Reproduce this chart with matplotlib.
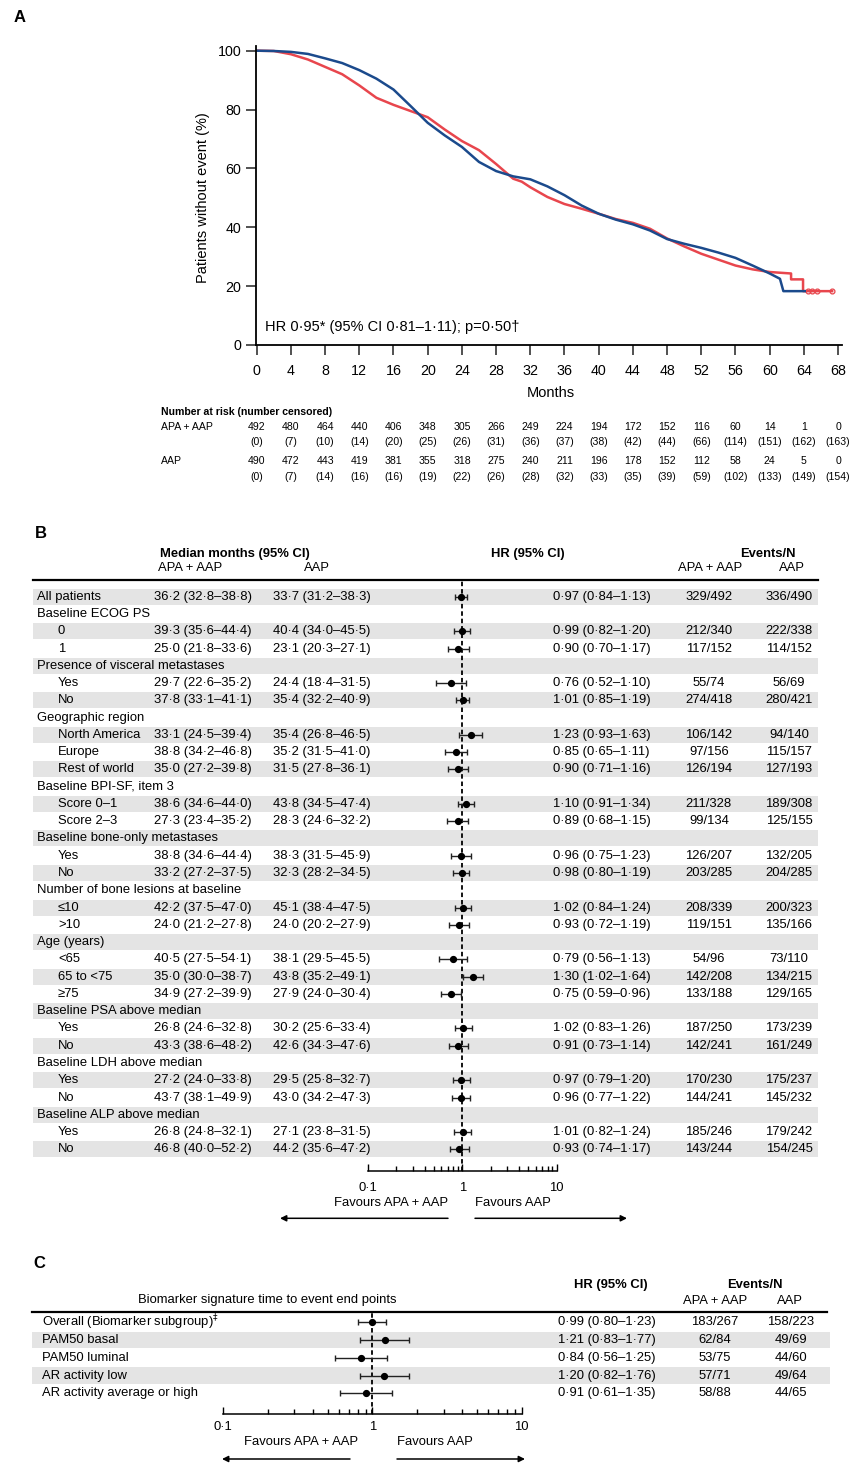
import numpy as np
import matplotlib
matplotlib.use('Agg')
import matplotlib.pyplot as plt
from matplotlib import transforms
from matplotlib.patches import Rectangle
from matplotlib.ticker import FixedLocator, FixedFormatter, LogLocator, NullFormatter

plt.rcParams['font.family'] = ['Liberation Sans', 'DejaVu Sans']

W, H = 853, 1463
BLUE = '#1b4a8c'
RED = '#e8464d'
GREY = '#e4e4e4'

# ---- panel A: time to event, % without event
apa_months = [0, 2, 4, 6, 8, 10, 12, 14, 16, 18, 20, 22, 24, 26, 28, 30, 32, 34, 36, 38,
              40, 42, 44, 46, 48, 50, 52, 54, 56, 58, 60, 61.2, 61.6, 64.1]
apa_surv = [100, 99.9, 99.6, 98.9, 97.4, 95.8, 93.4, 90.5, 86.8, 81.2, 75.5, 71.2, 67.3, 62.2,
            59.1, 57.3, 56.3, 53.9, 50.9, 47.4, 44.6, 42.6, 41.0, 38.9, 36.0, 34.4, 33.0, 31.4,
            29.6, 27.0, 24.3, 22.5, 18.3, 18.3]
aap_months = [0, 2, 4, 6, 8, 10, 12, 14, 16, 18, 20, 22, 24, 26, 28, 30, 31, 32, 34, 36, 38,
              40, 42, 44, 46, 48, 50, 52, 54, 56, 58, 60, 62.5, 62.5, 63.9, 63.9, 67.3]
aap_surv = [100, 99.9, 98.8, 97.0, 94.5, 92.0, 88.2, 84.0, 81.6, 79.5, 77.4, 73.2, 69.3, 66.2,
            61.5, 56.5, 55.5, 53.6, 50.3, 47.9, 46.3, 44.6, 42.8, 41.5, 39.5, 36.2, 33.5, 31.0,
            29.0, 27.0, 25.7, 24.8, 24.3, 22.3, 22.3, 18.3, 18.3]
aap_cens_months = [64.5, 65.0, 65.5, 67.3]
aap_cens_surv = [18.3, 18.3, 18.3, 18.3]

risk_months = list(range(0, 69, 4))
apa_risk = [492, 480, 464, 440, 406, 348, 305, 266, 249, 224, 194, 172, 152, 116, 60, 14, 1, 0]
apa_cens = [0, 7, 10, 14, 20, 25, 26, 31, 36, 37, 38, 42, 44, 66, 114, 151, 162, 163]
aap_risk = [490, 472, 443, 419, 381, 355, 318, 275, 240, 211, 196, 178, 152, 112, 58, 24, 5, 0]
aap_cens = [0, 7, 14, 16, 16, 19, 22, 26, 28, 32, 33, 35, 39, 59, 102, 133, 149, 154]

# ---- panel B: subgroups
nan = np.nan
b_labels = ['All patients', 'Baseline ECOG PS', '0', '1', 'Presence of visceral metastases',
            'Yes', 'No', 'Geographic region', 'North America', 'Europe', 'Rest of world',
            'Baseline BPI-SF, item 3', 'Score 0–1', 'Score 2–3', 'Baseline bone-only metastases',
            'Yes', 'No', 'Number of bone lesions at baseline', '≤10', '>10', 'Age (years)',
            '<65', '65 to <75', '≥75', 'Baseline PSA above median', 'Yes', 'No',
            'Baseline LDH above median', 'Yes', 'No', 'Baseline ALP above median', 'Yes', 'No']
b_indent = [0, 0, 1, 1, 0, 1, 1, 0, 1, 1, 1, 0, 1, 1, 0, 1, 1, 0, 1, 1, 0, 1, 1, 1,
            0, 1, 1, 0, 1, 1, 0, 1, 1]
b_med_apa = ['36·2 (32·8–38·8)', '', '39·3 (35·6–44·4)', '25·0 (21·8–33·6)', '',
             '29·7 (22·6–35·2)', '37·8 (33·1–41·1)', '', '33·1 (24·5–39·4)', '38·8 (34·2–46·8)',
             '35·0 (27·2–39·8)', '', '38·6 (34·6–44·0)', '27·3 (23·4–35·2)', '',
             '38·8 (34·6–44·4)', '33·2 (27·2–37·5)', '', '42·2 (37·5–47·0)', '24·0 (21·2–27·8)',
             '', '40·5 (27·5–54·1)', '35·0 (30·0–38·7)', '34·9 (27·2–39·9)', '',
             '26·8 (24·6–32·8)', '43·3 (38·6–48·2)', '', '27·2 (24·0–33·8)', '43·7 (38·1–49·9)',
             '', '26·8 (24·8–32·1)', '46·8 (40·0–52·2)']
b_med_aap = ['33·7 (31·2–38·3)', '', '40·4 (34·0–45·5)', '23·1 (20·3–27·1)', '',
             '24·4 (18·4–31·5)', '35·4 (32·2–40·9)', '', '35·4 (26·8–46·5)', '35·2 (31·5–41·0)',
             '31·5 (27·8–36·1)', '', '43·8 (34·5–47·4)', '28·3 (24·6–32·2)', '',
             '38·3 (31·5–45·9)', '32·3 (28·2–34·5)', '', '45·1 (38·4–47·5)', '24·0 (20·2–27·9)',
             '', '38·1 (29·5–45·5)', '43·8 (35·2–49·1)', '27·9 (24·0–30·4)', '',
             '30·2 (25·6–33·4)', '42·6 (34·3–47·6)', '', '29·5 (25·8–32·7)', '43·0 (34·2–47·3)',
             '', '27·1 (23·8–31·5)', '44·2 (35·6–47·2)']
b_hr = [0.97, nan, 0.99, 0.90, nan, 0.76, 1.01, nan, 1.23, 0.85, 0.90, nan, 1.10, 0.89, nan,
        0.96, 0.98, nan, 1.02, 0.93, nan, 0.79, 1.30, 0.75, nan, 1.02, 0.91, nan, 0.97, 0.96,
        nan, 1.01, 0.93]
b_lo = [0.84, nan, 0.82, 0.70, nan, 0.52, 0.85, nan, 0.93, 0.65, 0.71, nan, 0.91, 0.68, nan,
        0.75, 0.80, nan, 0.84, 0.72, nan, 0.56, 1.02, 0.59, nan, 0.83, 0.73, nan, 0.79, 0.77,
        nan, 0.82, 0.74]
b_hi = [1.13, nan, 1.20, 1.17, nan, 1.10, 1.19, nan, 1.63, 1.11, 1.16, nan, 1.34, 1.15, nan,
        1.23, 1.19, nan, 1.24, 1.19, nan, 1.13, 1.64, 0.96, nan, 1.26, 1.14, nan, 1.20, 1.22,
        nan, 1.24, 1.17]
b_ev_apa = ['329/492', '', '212/340', '117/152', '', '55/74', '274/418', '', '106/142', '97/156',
            '126/194', '', '211/328', '99/134', '', '126/207', '203/285', '', '208/339', '119/151',
            '', '54/96', '142/208', '133/188', '', '187/250', '142/241', '', '170/230', '144/241',
            '', '185/246', '143/244']
b_ev_aap = ['336/490', '', '222/338', '114/152', '', '56/69', '280/421', '', '94/140', '115/157',
            '127/193', '', '189/308', '125/155', '', '132/205', '204/285', '', '200/323', '135/166',
            '', '73/110', '134/215', '129/165', '', '173/239', '161/249', '', '175/237', '145/232',
            '', '179/242', '154/245']

# ---- panel C: biomarker signatures
c_labels = ['Overall (Biomarker subgroup)$^{‡}$', 'PAM50 basal', 'PAM50 luminal',
            'AR activity low', 'AR activity average or high']
c_hr = [0.99, 1.21, 0.84, 1.20, 0.91]
c_lo = [0.80, 0.83, 0.56, 0.82, 0.61]
c_hi = [1.23, 1.77, 1.25, 1.76, 1.35]
c_ev_apa = ['183/267', '62/84', '53/75', '57/71', '58/88']
c_ev_aap = ['158/223', '49/69', '44/60', '49/64', '44/65']


def hr_text(h, l, u):
    return f'{h:.2f} ({l:.2f}–{u:.2f})'.replace('.', '·')


fig = plt.figure(figsize=(W / 100, H / 100), dpi=100)

bg = fig.add_axes([0, 0, 1, 1])
bg.set_xlim(0, W)
bg.set_ylim(H, 0)
bg.axis('off')
bg.set_zorder(0)


def px_axes(left, top, right, bottom):
    ax = fig.add_axes([left / W, 1 - bottom / H, (right - left) / W, (bottom - top) / H])
    ax.set_zorder(1)
    ax.patch.set_alpha(0)
    return ax


# ================= A =================
bg.text(14, 18, 'A', fontsize=12, fontweight='bold', va='center')
x0, px_month = 256.7, 8.55
y0, px_pct = 345.0, 2.943
axA = px_axes(x0 - 0.1 * px_month, y0 - 101.5 * px_pct, x0 + 68.4 * px_month, y0)
axA.set_xlim(-0.1, 68.4)
axA.set_ylim(0, 101.5)
axA.plot(aap_months, aap_surv, color=RED, lw=1.8)
axA.plot(aap_cens_months, aap_cens_surv, 'o', mfc='none', mec=RED, ms=3.5, mew=0.9)
axA.plot(apa_months, apa_surv, color=BLUE, lw=1.8)
for s in ['top', 'right']:
    axA.spines[s].set_visible(False)
for s in ['left', 'bottom']:
    axA.spines[s].set_linewidth(1.3)
axA.set_xticks(risk_months)
axA.set_yticks([0, 20, 40, 60, 80, 100])
axA.tick_params(axis='both', length=7, width=1.1, labelsize=10.3, color='#222222')
axA.tick_params(axis='x', pad=7)
axA.tick_params(axis='y', pad=3.5)
axA.text(1, 6, 'HR 0·95* (95% CI 0·81–1·11); p=0·50†', fontsize=10.5, va='center')
bg.text(203, 198, 'Patients without event (%)', rotation=90, fontsize=10.5,
        ha='center', va='center')
bg.text(551, 393, 'Months', fontsize=10.5, ha='center', va='center')

# number at risk table
RS = 7.6
tr = transforms.blended_transform_factory(axA.transData, bg.transData)
bg.text(161, 411.7, 'Number at risk (number censored)', fontsize=RS, fontweight='bold',
        va='center')
bg.text(161, 426.7, 'APA + AAP', fontsize=RS, va='center')
bg.text(161, 460.7, 'AAP', fontsize=RS, va='center')
for m, a, ac, b, bc in zip(risk_months, apa_risk, apa_cens, aap_risk, aap_cens):
    bg.text(m, 426.7, str(a), transform=tr, fontsize=RS, ha='center', va='center')
    bg.text(m, 442.3, f'({ac})', transform=tr, fontsize=RS, ha='center', va='center')
    bg.text(m, 460.7, str(b), transform=tr, fontsize=RS, ha='center', va='center')
    bg.text(m, 476.7, f'({bc})', transform=tr, fontsize=RS, ha='center', va='center')


def forest(left, right, top, bottom, row0, drow, hr, lo, hi, pad):
    ax = px_axes(left, top, right, bottom)
    ax.set_xscale('log')
    ax.set_xlim(0.1, 10)
    ax.set_ylim((bottom - row0) / drow, (top - row0) / drow)
    hr, lo, hi = np.asarray(hr), np.asarray(lo), np.asarray(hi)
    rows = np.arange(len(hr))
    ok = ~np.isnan(hr)
    ax.axvline(1, color='black', lw=1.3, ls=(0, (2.5, 1.6)))
    ax.errorbar(hr[ok], rows[ok], xerr=[hr[ok] - lo[ok], hi[ok] - hr[ok]], fmt='o',
                ms=4.2, color='black', ecolor='#222222', elinewidth=1, capsize=2.4,
                capthick=1, zorder=3)
    for s in ['top', 'right', 'left']:
        ax.spines[s].set_visible(False)
    ax.spines['bottom'].set_linewidth(1.1)
    ax.set_yticks([])
    ax.xaxis.set_major_locator(FixedLocator([0.1, 1, 10]))
    ax.xaxis.set_major_formatter(FixedFormatter(['0·1', '1', '10']))
    ax.xaxis.set_minor_locator(LogLocator(base=10, subs=range(2, 10)))
    ax.xaxis.set_minor_formatter(NullFormatter())
    ax.tick_params(axis='x', which='major', direction='in', length=5, width=1,
                   labelsize=9.4, pad=pad)
    ax.tick_params(axis='x', which='minor', direction='in', length=3.5, width=1)
    return ax


def arrows(y, left_from, left_to, right_from, right_to):
    props = dict(arrowstyle='-|>', color='black', lw=1.1, mutation_scale=9,
                 shrinkA=0, shrinkB=0)
    bg.annotate('', xy=(left_to, y), xytext=(left_from, y), arrowprops=props)
    bg.annotate('', xy=(right_to, y), xytext=(right_from, y), arrowprops=props)


FS = 9.4

# ================= B =================
bg.text(35, 533, 'B', fontsize=12, fontweight='bold', va='center')
bg.text(235, 554, 'Median months (95% CI)', fontsize=FS, fontweight='bold', ha='center',
        va='center')
bg.text(190, 568, 'APA + AAP', fontsize=FS, ha='center', va='center')
bg.text(317, 568, 'AAP', fontsize=FS, ha='center', va='center')
bg.text(528, 554, 'HR (95% CI)', fontsize=FS, fontweight='bold', ha='center', va='center')
bg.text(768, 554, 'Events/N', fontsize=FS, fontweight='bold', ha='center', va='center')
bg.text(710, 568, 'APA + AAP', fontsize=FS, ha='center', va='center')
bg.text(792, 568, 'AAP', fontsize=FS, ha='center', va='center')
bg.plot([33, 818], [580, 580], color='black', lw=1.6)

rowB0, dyB = 596.7, 17.27
for i, lab in enumerate(b_labels):
    y = rowB0 + i * dyB
    if i % 2 == 0:
        bg.add_patch(Rectangle((33, y - 8), 785, 16, color=GREY, lw=0, zorder=0))
    bg.text(58 if b_indent[i] else 37, y, lab, fontsize=FS, va='center')
    bg.text(154, y, b_med_apa[i], fontsize=FS, va='center')
    bg.text(273, y, b_med_aap[i], fontsize=FS, va='center')
    if not np.isnan(b_hr[i]):
        bg.text(553, y, hr_text(b_hr[i], b_lo[i], b_hi[i]), fontsize=FS, va='center')
    bg.text(709, y, b_ev_apa[i], fontsize=FS, ha='center', va='center')
    bg.text(789, y, b_ev_aap[i], fontsize=FS, ha='center', va='center')

forest(368, 556.7, 581, 1171, rowB0, dyB, b_hr, b_lo, b_hi, pad=8)
bg.text(448, 1203, 'Favours APA + AAP', fontsize=FS, ha='right', va='center')
bg.text(475, 1203, 'Favours AAP', fontsize=FS, ha='left', va='center')
arrows(1218.3, 448, 280, 475, 627)

# ================= C =================
bg.text(33, 1263, 'C', fontsize=12, fontweight='bold', va='center')
bg.text(611, 1285, 'HR (95% CI)', fontsize=FS, fontweight='bold', ha='center', va='center')
bg.text(755, 1285, 'Events/N', fontsize=FS, fontweight='bold', ha='center', va='center')
bg.text(267, 1300, 'Biomarker signature time to event end points', fontsize=FS,
        ha='center', va='center')
bg.text(715, 1300.7, 'APA + AAP', fontsize=FS, ha='center', va='center')
bg.text(790, 1300.7, 'AAP', fontsize=FS, ha='center', va='center')
bg.plot([32, 827], [1311.7, 1311.7], color='black', lw=1.6)

rowC0, dyC = 1322.3, 17.75
for i, lab in enumerate(c_labels):
    y = rowC0 + i * dyC
    if i % 2 == 1:
        bg.add_patch(Rectangle((32, y - 8.4), 798, 16.8, color=GREY, lw=0, zorder=0))
    bg.text(42, y, lab, fontsize=FS, va='center')
    bg.text(558, y, hr_text(c_hr[i], c_lo[i], c_hi[i]), fontsize=FS, va='center')
    bg.text(715, y, c_ev_apa[i], fontsize=FS, ha='center', va='center')
    bg.text(790.7, y, c_ev_aap[i], fontsize=FS, ha='center', va='center')

forest(223.3, 521.5, 1313, 1414, rowC0, dyC, c_hr, c_lo, c_hi, pad=5)
bg.text(358, 1441.7, 'Favours APA + AAP', fontsize=FS, ha='right', va='center')
bg.text(397, 1441.7, 'Favours AAP', fontsize=FS, ha='left', va='center')
arrows(1459, 350, 222, 397, 525)

fig.savefig('out.png', dpi=100)
